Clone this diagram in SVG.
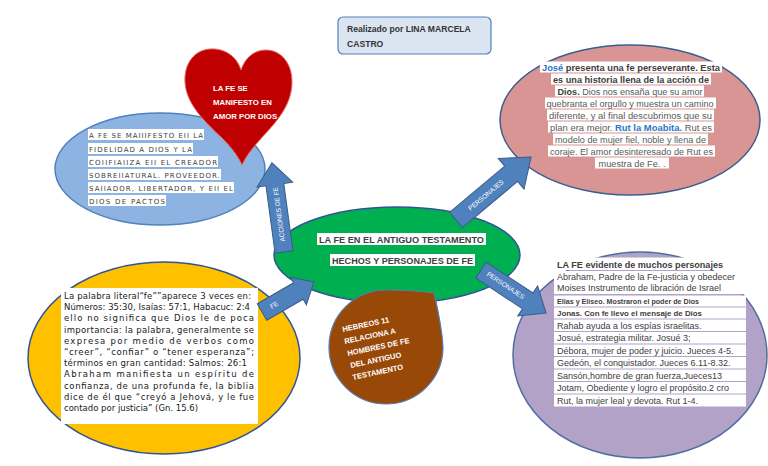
<svg xmlns="http://www.w3.org/2000/svg" width="768" height="466" viewBox="0 0 768 466">
<style>
.sans{font-family:"Liberation Sans","Arial",sans-serif}
.dj{font-family:"DejaVu Sans","Liberation Sans",sans-serif}
.arrow{fill:#4f81bd;stroke:#385d8a;stroke-width:1}
.atext{font-family:"Liberation Sans",sans-serif;font-size:6.5px;fill:#ffffff;text-anchor:middle}
.hl{fill:#ffffff}
.pk{font-family:"Liberation Sans",sans-serif;font-size:9.2px;fill:#595959;text-anchor:middle}
.pkb{font-weight:bold;fill:#404040}
.blu{font-weight:bold;fill:#1f78c8}
.bl{font-family:"DejaVu Sans","Liberation Sans",sans-serif;font-size:7px;fill:#404040}
.ye{font-family:"DejaVu Sans","Liberation Sans",sans-serif;font-size:8.5px;fill:#1a1a1a}
.pu{font-family:"Liberation Sans",sans-serif;font-size:9px;fill:#404040}
.pus{font-family:"Liberation Sans",sans-serif;font-size:6.6px;font-weight:bold;fill:#404040}
.wb{font-family:"Liberation Sans",sans-serif;font-weight:bold;fill:#ffffff}
</style>
<rect width="768" height="466" fill="#ffffff"/>

<g id="autor">
<rect x="338" y="17" width="153" height="37" rx="5" fill="#dbe5f1" stroke="#4f81bd" stroke-width="1.2"/>
<text class="sans" x="347" y="32" font-size="8.6" font-weight="bold" fill="#333333">Realizado  por LINA MARCELA</text>
<text class="sans" x="347" y="47" font-size="8.6" font-weight="bold" fill="#333333">CASTRO</text>
</g>

<g id="acciones">
<ellipse cx="160" cy="169" rx="105" ry="56" fill="#8db3e2" stroke="#4f81bd" stroke-width="1.5"/>
<rect class="hl" x="88" y="129" width="116" height="11"/>
<rect class="hl" x="88" y="143" width="105" height="11"/>
<rect class="hl" x="88" y="156" width="130" height="11"/>
<rect class="hl" x="88" y="169" width="133" height="11"/>
<rect class="hl" x="88" y="182" width="146" height="11"/>
<rect class="hl" x="88" y="195" width="78" height="11"/>
<text class="bl" x="89" y="138" textLength="114" lengthAdjust="spacing">A FE SE MAIIIFESTO  EII LA</text>
<text class="bl" x="89" y="152" textLength="103" lengthAdjust="spacing">FIDELIDAD A DIOS Y  LA</text>
<text class="bl" x="89" y="165" textLength="128" lengthAdjust="spacing">COIIFIAIIZA EII EL  CREADOR</text>
<text class="bl" x="89" y="178" textLength="131" lengthAdjust="spacing">SOBREIIATURAL. PROVEEDOR.</text>
<text class="bl" x="89" y="191" textLength="144" lengthAdjust="spacing">SAIIADOR,  LIBERTADOR,  Y EII EL</text>
<text class="bl" x="89" y="204" textLength="76" lengthAdjust="spacing">DIOS DE  PACTOS</text>
</g>

<g id="corazon">
<path d="M241,70 C236,54 222,48 210,49 C194,50 184,64 185,82 C186,104 205,122 222,138 C231,147 238,156 242,165 C247,154 256,144 266,133 C280,118 292,102 292,82 C292,62 280,50 266,50 C254,50 245,58 241,70 Z" fill="#c00000" stroke="#e26b6b" stroke-width="1"/>
<text class="wb" x="213" y="91" font-size="7.8">LA FE SE</text>
<text class="wb" x="213" y="105" font-size="7.8">MANIFESTO EN</text>
<text class="wb" x="213" y="119" font-size="7.8">AMOR POR DIOS</text>
</g>

<g id="jose-rut">
<ellipse cx="630" cy="120" rx="130" ry="75" fill="#d99594" stroke="#3a5f8f" stroke-width="1.5"/>
<rect class="hl" x="540" y="61.5" width="182" height="11"/>
<rect class="hl" x="551" y="73.5" width="160" height="11"/>
<rect class="hl" x="555" y="85.5" width="149" height="11"/>
<rect class="hl" x="545" y="97.5" width="171" height="11"/>
<rect class="hl" x="547" y="109.5" width="167" height="11"/>
<rect class="hl" x="548" y="121.5" width="166" height="11"/>
<rect class="hl" x="553" y="133.5" width="155" height="11"/>
<rect class="hl" x="548" y="145.5" width="167" height="11"/>
<rect class="hl" x="595" y="157.5" width="74" height="11"/>
<text class="pk" x="631" y="70.5" textLength="178" lengthAdjust="spacingAndGlyphs"><tspan class="blu">José</tspan><tspan class="pkb">  presenta una fe perseverante. Esta</tspan></text>
<text class="pk pkb" x="631" y="82.5" textLength="156" lengthAdjust="spacingAndGlyphs">es una historia llena de la acción de</text>
<text class="pk" x="630" y="94.5" textLength="145" lengthAdjust="spacingAndGlyphs"><tspan class="pkb">Dios.</tspan> Dios nos ensaña que su amor</text>
<text class="pk" x="630" y="106.5" textLength="167" lengthAdjust="spacingAndGlyphs">quebranta el orgullo y muestra un camino</text>
<text class="pk" x="630.5" y="118.5" textLength="163" lengthAdjust="spacingAndGlyphs">diferente, y al final descubrimos  que su</text>
<text class="pk" x="631" y="130.5" textLength="162" lengthAdjust="spacingAndGlyphs">plan era mejor.  <tspan class="blu">Rut la Moabita.</tspan> Rut es</text>
<text class="pk" x="630.5" y="142.5" textLength="151" lengthAdjust="spacingAndGlyphs">modelo de mujer fiel, noble y llena de</text>
<text class="pk" x="631.5" y="154.5" textLength="163" lengthAdjust="spacingAndGlyphs">coraje. El amor desinteresado de Rut es</text>
<text class="pk" x="632" y="166.5">muestra de Fe.  .</text>
</g>

<g id="antiguo-testamento">
<ellipse cx="397" cy="255" rx="123" ry="48" fill="#00b050" stroke="#2f5597" stroke-width="1.5"/>
<rect class="hl" x="317" y="233" width="169" height="12"/>
<rect class="hl" x="330" y="254" width="145" height="12"/>
<text class="sans" x="401.5" y="242.5" font-size="9" font-weight="bold" fill="#404040" text-anchor="middle" textLength="165" lengthAdjust="spacingAndGlyphs">LA FE EN EL ANTIGUO TESTAMENTO</text>
<text class="sans" x="402.5" y="263.5" font-size="9" font-weight="bold" fill="#404040" text-anchor="middle" textLength="141" lengthAdjust="spacingAndGlyphs">HECHOS Y PERSONAJES DE FE</text>
</g>

<g id="palabra-fe">
<ellipse cx="164" cy="358" rx="136" ry="96" fill="#ffc000" stroke="#2f5597" stroke-width="1.5"/>
<rect class="hl" x="61" y="288" width="197" height="136"/>
<text class="ye" x="64" y="299" textLength="187" lengthAdjust="spacing">La palabra literal“fe””aparece 3 veces en:</text>
<text class="ye" x="64" y="310.2" textLength="186" lengthAdjust="spacing">Números: 35:30, Isaías: 57:1, Habacuc: 2:4</text>
<text class="ye" x="64" y="321.4" textLength="190" lengthAdjust="spacing">ello no significa  que Dios le de poca</text>
<text class="ye" x="64" y="332.6" textLength="190" lengthAdjust="spacing">importancia: la palabra, generalmente se</text>
<text class="ye" x="64" y="343.8" textLength="190" lengthAdjust="spacing">expresa por medio de verbos como</text>
<text class="ye" x="64" y="355" textLength="190" lengthAdjust="spacing">“creer”, “confiar” o “tener esperanza”;</text>
<text class="ye" x="64" y="366.2" textLength="183" lengthAdjust="spacing">términos en gran cantidad: Salmos: 26:1</text>
<text class="ye" x="64" y="377.4" textLength="190" lengthAdjust="spacing">Abraham manifiesta un espíritu de</text>
<text class="ye" x="64" y="388.6" textLength="190" lengthAdjust="spacing">confianza, de una profunda fe, la biblia</text>
<text class="ye" x="64" y="399.8" textLength="190" lengthAdjust="spacing">dice de él que “creyó a Jehová, y le fue</text>
<text class="ye" x="64" y="411">contado por justicia” (Gn. 15.6)</text>
</g>

<g id="personajes">
<ellipse cx="640" cy="355" rx="127" ry="103" fill="#b3a2c7" stroke="#4f6f9f" stroke-width="1.5"/>
<rect class="hl" x="554" y="257.5" width="192" height="12.5"/>
<rect class="hl" x="554" y="271" width="192" height="23"/>
<rect class="hl" x="554" y="295.5" width="192" height="11"/>
<rect class="hl" x="554" y="307.5" width="192" height="11"/>
<rect class="hl" x="554" y="319.5" width="192" height="11.5"/>
<rect class="hl" x="554" y="332" width="192" height="11.5"/>
<rect class="hl" x="554" y="344.5" width="192" height="11.5"/>
<rect class="hl" x="554" y="357" width="192" height="11.5"/>
<rect class="hl" x="554" y="369.5" width="192" height="11.5"/>
<rect class="hl" x="554" y="382" width="192" height="11.5"/>
<rect class="hl" x="554" y="394.5" width="192" height="12"/>
<text class="pu" x="557" y="267.5" font-weight="bold" fill="#1a1a1a" textLength="166" lengthAdjust="spacingAndGlyphs">LA FE evidente de muchos personajes</text>
<text class="pu" x="557" y="279.5">Abraham, Padre de la Fe-justicia y obedecer</text>
<text class="pu" x="557" y="291">Moises Instrumento de libración de Israel</text>
<text class="pus" x="557" y="303.5" textLength="142" lengthAdjust="spacingAndGlyphs">Elias y Elíseo. Mostraron el poder de Dios</text>
<text class="pus" x="557" y="315.5" textLength="145" lengthAdjust="spacingAndGlyphs">Jonas. Con fe llevo el mensaje de Dios</text>
<text class="pu" x="557" y="328.5">Rahab ayuda a los espías israelitas.</text>
<text class="pu" x="557" y="341">Josué, estrategia militar. Josué 3;</text>
<text class="pu" x="557" y="353.5">Débora, mujer de poder y juicio. Jueces 4-5.</text>
<text class="pu" x="557" y="366">Gedeón, el conquistador. Jueces 6.11-8.32.</text>
<text class="pu" x="557" y="378.5">Sansón,hombre de gran fuerza,Jueces13</text>
<text class="pu" x="557" y="391">Jotam, Obediente y logro el propósito.2 cro</text>
<text class="pu" x="557" y="404">Rut, la mujer leal y devota. Rut 1-4.</text>
</g>

<g id="hebreos">
<path d="M386,290 C405,290 420,291 434,293 C438,310 442,330 443,347 A57,57 0 1 1 386,290 Z" fill="#984807" stroke="#5a7ab0" stroke-width="1.2"/>
<text class="wb" font-size="7.6" x="343" y="332" transform="rotate(-12 343 332)">HEBREOS 11</text>
<text class="wb" font-size="7.6" x="345" y="344" transform="rotate(-12 345 344)">RELACIONA A</text>
<text class="wb" font-size="7.6" x="348" y="356" transform="rotate(-12 348 356)">HOMBRES DE FE</text>
<text class="wb" font-size="7.6" x="351" y="368" transform="rotate(-12 351 368)">DEL ANTIGUO</text>
<text class="wb" font-size="7.6" x="353" y="380" transform="rotate(-12 353 380)">TESTAMENTO</text>
</g>

<g id="conectores">
<g transform="translate(284,252) rotate(-97.7)">
<path class="arrow" d="M0,-9 L68,-9 L68,-18 L90,0 L68,18 L68,9 L0,9 Z"/>
<text class="atext" x="38" y="2.3">ACCIONES DE FE</text>
</g>
<g transform="translate(456,220) rotate(-40)">
<path class="arrow" d="M0,-10 L72,-10 L72,-20 L98,0 L72,20 L72,10 L0,10 Z"/>
<text class="atext" x="39" y="2.3">PERSONAJES</text>
</g>
<g transform="translate(481,270) rotate(33.5)">
<path class="arrow" d="M0,-9.5 L56,-9.5 L56,-18 L78,0 L56,18 L56,9.5 L0,9.5 Z"/>
<text class="atext" x="29" y="1.5">PERSONAJES</text>
</g>
<g transform="translate(262,312) rotate(-30)">
<path class="arrow" d="M0,-9.5 L42,-9.5 L42,-16 L60,0 L42,16 L42,9.5 L0,9.5 Z"/>
<text class="atext" x="14" y="2.3">FE</text>
</g>
</g>
</svg>
